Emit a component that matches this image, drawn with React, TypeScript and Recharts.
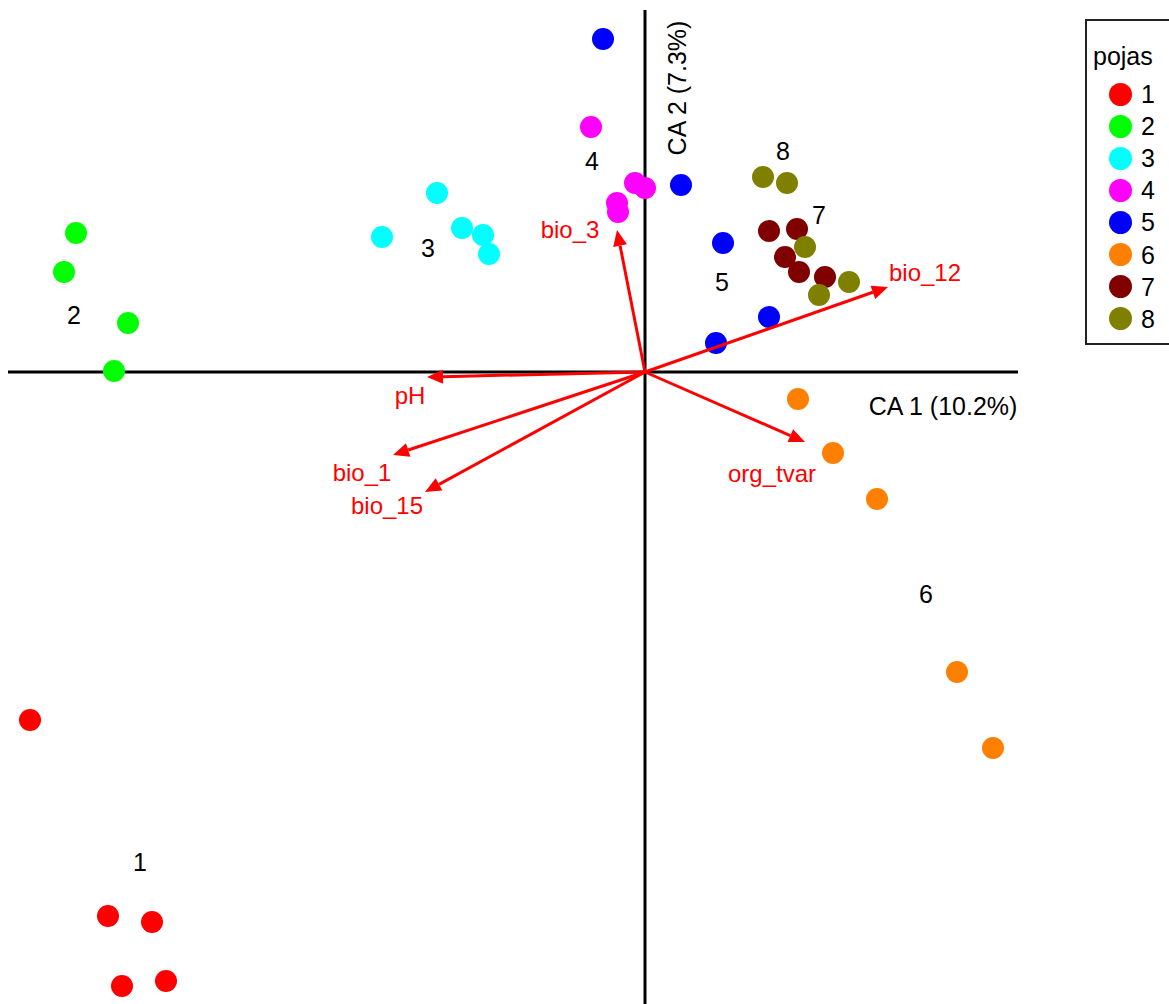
import { ScatterChart, Scatter, XAxis, YAxis, ReferenceLine } from "recharts";

// CA site scores per pojas (belt)
const groups = ["1", "2", "3", "4", "5", "6", "7", "8"];
const colors = ["#ff0000", "#00ff00", "#00ffff", "#ff00ff", "#0000ff", "#ff8000", "#800000", "#808000"];

const pojas1 = [{ x: -6.15, y: -3.48 }, { x: -5.37, y: -5.44 }, { x: -4.93, y: -5.5 }, { x: -5.23, y: -6.14 }, { x: -4.79, y: -6.09 }];
const pojas2 = [{ x: -5.69, y: 1.39 }, { x: -5.81, y: 1.0 }, { x: -5.17, y: 0.49 }, { x: -5.31, y: 0.01 }];
const pojas3 = [{ x: -2.08, y: 1.79 }, { x: -2.63, y: 1.35 }, { x: -1.83, y: 1.44 }, { x: -1.62, y: 1.37 }, { x: -1.56, y: 1.18 }];
const pojas4 = [{ x: -0.54, y: 2.45 }, { x: -0.1, y: 1.89 }, { x: 0.0, y: 1.84 }, { x: -0.28, y: 1.69 }, { x: -0.27, y: 1.6 }];
const pojas5 = [{ x: -0.42, y: 3.33 }, { x: 0.36, y: 1.87 }, { x: 0.78, y: 1.29 }, { x: 1.24, y: 0.55 }, { x: 0.71, y: 0.29 }];
const pojas6 = [{ x: 1.53, y: -0.27 }, { x: 1.88, y: -0.81 }, { x: 2.32, y: -1.27 }, { x: 3.12, y: -3.0 }, { x: 3.48, y: -3.76 }];
const pojas7 = [{ x: 1.24, y: 1.41 }, { x: 1.52, y: 1.43 }, { x: 1.4, y: 1.15 }, { x: 1.54, y: 1.0 }, { x: 1.8, y: 0.95 }];
const pojas8 = [{ x: 1.18, y: 1.95 }, { x: 1.42, y: 1.89 }, { x: 1.6, y: 1.25 }, { x: 2.04, y: 0.9 }, { x: 1.74, y: 0.77 }];
const sites = [pojas1, pojas2, pojas3, pojas4, pojas5, pojas6, pojas7, pojas8];

// group centroid labels
const groupLabels = [
  { x: -5.05, y: -4.9, label: "1" },
  { x: -5.71, y: 0.57, label: "2" },
  { x: -2.17, y: 1.24, label: "3" },
  { x: -0.53, y: 2.11, label: "4" },
  { x: 0.77, y: 0.9, label: "5" },
  { x: 2.81, y: -2.22, label: "6" },
  { x: 1.74, y: 1.57, label: "7" },
  { x: 1.38, y: 2.21, label: "8" },
];

// environmental vectors
const envVars = ["bio_3", "bio_12", "pH", "bio_1", "bio_15", "org_tvar"];
const envTips = [
  { x: -0.28, y: 1.42 },
  { x: 2.43, y: 0.85 },
  { x: -2.18, y: -0.05 },
  { x: -2.52, y: -0.83 },
  { x: -2.2, y: -1.2 },
  { x: 1.6, y: -0.7 },
];
const envLabelPos = [
  { x: -0.75, y: 1.43 },
  { x: 2.8, y: 1.0 },
  { x: -2.35, y: -0.23 },
  { x: -2.83, y: -1.0 },
  { x: -2.58, y: -1.33 },
  { x: 1.27, y: -1.01 },
];

const axisTitles = [
  { x: 2.98, y: -0.34, label: "CA 1 (10.2%)", rot: 0 },
  { x: 0.32, y: 2.84, label: "CA 2 (7.3%)", rot: -90 },
];

const xDomain = [-6.45, 5.24];
const yDomain = [-6.32, 3.72];
const font = "'Liberation Sans', Arial, sans-serif";

const envLabelData = envVars.map((v, i) => ({ ...envLabelPos[i], label: v }));

const arrowShape = (p: any) => {
  const { x1, y1, x2, y2 } = p;
  const a = Math.atan2(y2 - y1, x2 - x1);
  const L = 16, W = 7;
  const bx = x2 - L * Math.cos(a), by = y2 - L * Math.sin(a);
  const pts = `${x2},${y2} ${bx + W * Math.sin(a)},${by - W * Math.cos(a)} ${bx - W * Math.sin(a)},${by + W * Math.cos(a)}`;
  return (
    <g>
      <line x1={x1} y1={y1} x2={bx} y2={by} stroke="#ff0000" strokeWidth={3} />
      <polygon points={pts} fill="#ff0000" />
    </g>
  );
};

const textShape = (color: string, size: number) => (p: any) => {
  const rot = p.payload.rot || 0;
  return (
    <text
      x={p.cx}
      y={p.cy}
      fill={color}
      fontSize={size}
      fontFamily={font}
      textAnchor="middle"
      dominantBaseline="central"
      transform={rot ? `rotate(${rot} ${p.cx} ${p.cy})` : undefined}
    >
      {p.payload.label}
    </text>
  );
};

export default function App() {
  return (
    <div style={{ position: "absolute", left: 0, top: 0, width: 1169, height: 1004, overflow: "hidden", background: "#fff" }}>
      <ScatterChart width={1169} height={1004} margin={{ top: 0, right: 0, bottom: 0, left: 0 }}>
        <XAxis type="number" dataKey="x" domain={xDomain} hide allowDataOverflow />
        <YAxis type="number" dataKey="y" domain={yDomain} hide allowDataOverflow />
        <ReferenceLine segment={[{ x: -6.37, y: 0 }, { x: 3.73, y: 0 }]} stroke="#000" strokeWidth={3} zIndex={100} />
        <ReferenceLine segment={[{ x: 0, y: 3.62 }, { x: 0, y: -6.32 }]} stroke="#000" strokeWidth={3} zIndex={100} />
        {sites.map((d, i) => (
          <Scatter
            key={groups[i]}
            name={groups[i]}
            data={d}
            isAnimationActive={false}
            shape={(p: any) => <circle cx={p.cx} cy={p.cy} r={11} fill={colors[i]} />}
          />
        ))}
        {envTips.map((t, i) => (
          <ReferenceLine
            key={envVars[i]}
            segment={[{ x: 0, y: 0 }, t]}
            stroke="#ff0000"
            strokeWidth={3}
            shape={arrowShape}
            zIndex={700}
          />
        ))}
        <Scatter data={envLabelData} isAnimationActive={false} shape={textShape("#ff0000", 24)} zIndex={800} />
        <Scatter data={groupLabels} isAnimationActive={false} shape={textShape("#000", 25)} zIndex={800} />
        <Scatter data={axisTitles} isAnimationActive={false} shape={textShape("#000", 25)} zIndex={800} />
      </ScatterChart>
      <div
        style={{
          position: "absolute",
          left: 1085,
          top: 19,
          width: 120,
          height: 322,
          border: "2px solid #222",
          fontFamily: font,
          fontSize: 25,
          color: "#000",
        }}
      >
        <div style={{ position: "absolute", left: 6, top: 20, lineHeight: "30px" }}>pojas</div>
        {groups.map((g, i) => (
          <div key={g} style={{ position: "absolute", left: 22, top: 58 + i * 32.1, height: 30, display: "flex", alignItems: "center" }}>
            <span style={{ display: "inline-block", width: 23, height: 23, borderRadius: "50%", background: colors[i] }} />
            <span style={{ marginLeft: 9, lineHeight: "30px" }}>{g}</span>
          </div>
        ))}
      </div>
    </div>
  );
}
